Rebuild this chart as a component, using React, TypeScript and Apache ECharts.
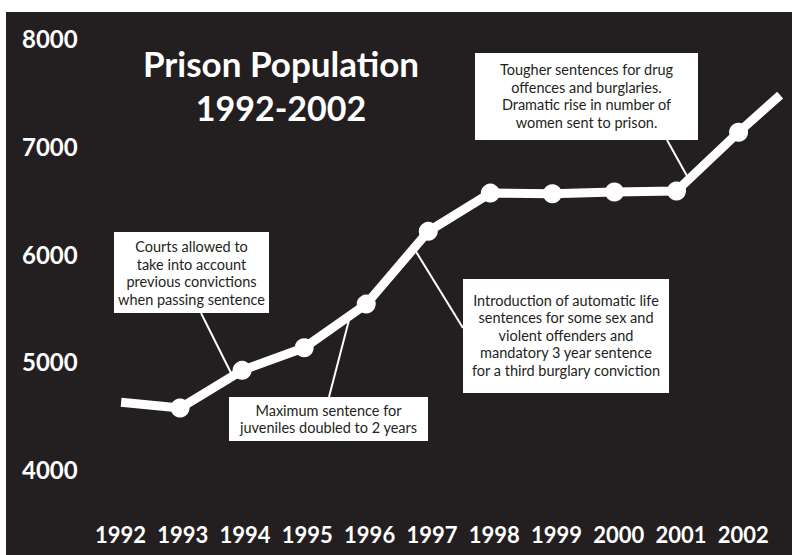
import React, { useEffect, useRef } from "react";
import * as echarts from "echarts";

// ---- data ----
const yearTicks = ["1992", "1993", "1994", "1995", "1996", "1997", "1998", "1999", "2000", "2001", "2002"];
const pointYears = [1993, 1994, 1995, 1996, 1997, 1998, 1999, 2000, 2001, 2002];
const pointValues = [4570, 4920, 5130, 5535, 6210, 6565, 6560, 6575, 6585, 7130];
// line starts a little after 1992 and runs on past 2002 (no markers there)
const lineStart = [1992.05, 4625];
const lineEnd = [2002.67, 7475];
const yTicks = [4000, 5000, 6000, 7000, 8000];

const titleLines = ["Prison Population", "1992-2002"];
const notes = [
  "Courts allowed to\ntake into account\nprevious convictions\nwhen passing sentence",
  "Maximum sentence for\njuveniles doubled to 2 years",
  "Introduction of automatic life\nsentences for some sex and\nviolent offenders and\nmandatory 3 year sentence\nfor a third burglary conviction",
  "Tougher sentences for drug\noffences and burglaries.\nDramatic rise in number of\nwomen sent to prison.",
];

const BG = "#231f20";
const FONT = "Lato, 'Open Sans', sans-serif";

export default function App() {
  const ref = useRef<HTMLDivElement>(null);

  useEffect(() => {
    if (!ref.current) return;
    const chart = echarts.init(ref.current, undefined, { renderer: "svg" });

    const seriesData: any[] = [
      { value: lineStart, symbol: "none" },
      ...pointYears.map((y, i) => ({ value: [y, pointValues[i]] })),
      { value: lineEnd, symbol: "none" },
    ];

    const box = (x: number, y: number, w: number, h: number) => ({
      type: "rect",
      shape: { x, y, width: w, height: h },
      style: { fill: "#ffffff" },
      z: 10,
    });
    const noteText = (text: string, cx: number, cy: number) => ({
      type: "text",
      x: cx,
      y: cy,
      z: 11,
      style: {
        text,
        fill: BG,
        font: `14.5px ${FONT}`,
        lineHeight: 17.5,
        align: "center",
        verticalAlign: "middle",
        textAlign: "center",
        textVerticalAlign: "middle",
      },
    });
    const connector = (x1: number, y1: number, x2: number, y2: number) => ({
      type: "line",
      shape: { x1, y1, x2, y2 },
      style: { stroke: "#ffffff", lineWidth: 2 },
      z: 9,
    });
    const titleText = (text: string, y: number, size: number) => ({
      type: "text",
      x: 281,
      y,
      style: {
        text,
        fill: "#ffffff",
        font: `bold ${size}px ${FONT}`,
        align: "center",
        verticalAlign: "middle",
        textAlign: "center",
        textVerticalAlign: "middle",
      },
    });

    const option: any = {
      animation: false,
      backgroundColor: "#ffffff",
      grid: [
        { left: 118, right: 10, top: 38.5, bottom: 85.5 },
        { left: 120.5, right: 48.7, top: 38.5, bottom: 85.5 },
      ],
      xAxis: [
        {
          type: "value",
          gridIndex: 0,
          min: 1992,
          max: 2002.7,
          show: false,
        },
        {
          type: "category",
          gridIndex: 1,
          data: yearTicks,
          boundaryGap: false,
          axisLine: { show: false },
          axisTick: { show: false },
          splitLine: { show: false },
          axisLabel: {
            color: "#ffffff",
            fontFamily: FONT,
            fontWeight: "bold",
            fontSize: 22,
            margin: 54,
            interval: 0,
          },
        },
      ],
      yAxis: [
        {
          type: "value",
          gridIndex: 0,
          min: yTicks[0],
          max: yTicks[yTicks.length - 1],
          interval: 1000,
          axisLine: { show: false },
          axisTick: { show: false },
          splitLine: { show: false },
          axisLabel: {
            color: "#ffffff",
            fontFamily: FONT,
            fontWeight: "bold",
            fontSize: 24,
            align: "left",
            margin: 96,
            formatter: (v: number) => String(v),
          },
        },
        {
          type: "value",
          gridIndex: 1,
          min: 0,
          max: 1,
          show: false,
        },
      ],
      graphic: [
        {
          type: "rect",
          shape: { x: 6, y: 12, width: 786, height: 543 },
          style: { fill: BG },
          z: -1,
        },
        titleText(titleLines[0], 63, 35),
        titleText(titleLines[1], 107, 34),
        connector(201, 313, 231, 373),
        box(114, 232, 155, 81),
        noteText(notes[0], 191.5, 273),
        connector(329, 397, 349, 320),
        box(229, 397, 199, 44),
        noteText(notes[1], 328.5, 419),
        connector(463, 328, 415, 250),
        box(463, 279, 206, 114),
        noteText(notes[2], 566, 335),
        connector(667, 140, 687, 176),
        box(475, 53, 223, 87),
        noteText(notes[3], 586.5, 96),
      ],
      series: [
        {
          type: "line",
          xAxisIndex: 0,
          yAxisIndex: 0,
          data: seriesData,
          symbol: "circle",
          symbolSize: 19,
          showSymbol: true,
          itemStyle: { color: "#ffffff" },
          lineStyle: { color: "#ffffff", width: 9, cap: "butt", join: "round" },
          z: 5,
        },
      ],
    };

    chart.setOption(option);
    return () => chart.dispose();
  }, []);

  return (
    <div
      ref={ref}
      style={{ position: "absolute", left: 0, top: 0, width: 792, height: 555 }}
    />
  );
}
